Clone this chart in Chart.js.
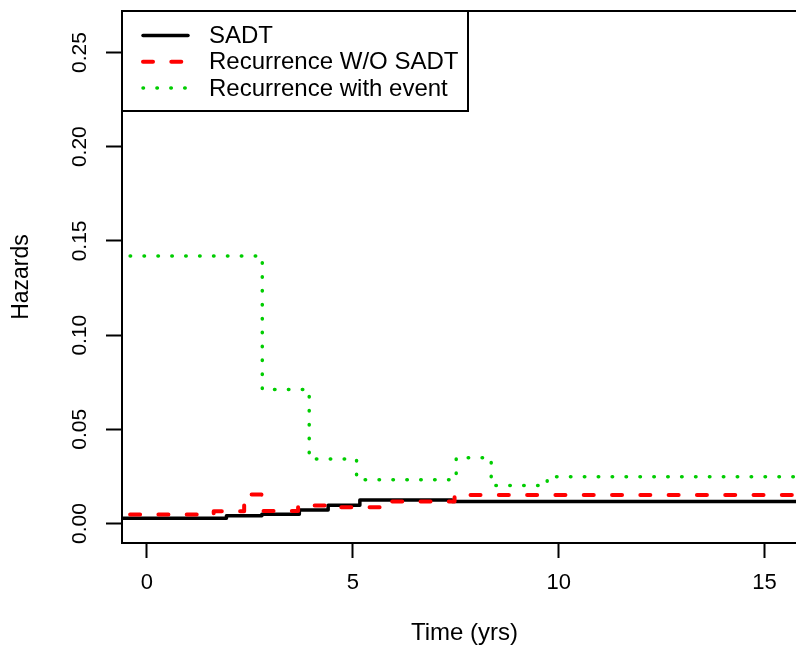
<!DOCTYPE html>
<html>
<head>
<meta charset="utf-8">
<title>Hazards</title>
<script src="https://cdn.jsdelivr.net/npm/chart.js@4.4.1/dist/chart.umd.min.js"></script>
<style>
  html, body { margin: 0; padding: 0; background: #fff; overflow: hidden; }
  #wrap { position: relative; width: 807px; height: 645px; }
</style>
</head>
<body>
<div id="wrap"><canvas id="hazardChart"></canvas></div>
<script>
// step change points (time in years) and hazard level from that time on
const sadtTimes = [-0.6, 1.93, 2.79, 3.70, 4.40, 5.17, 7.41, 16.5];
const sadtHazard = [0.0028, 0.0042, 0.0049, 0.0072, 0.0097, 0.0125, 0.0117, 0.0117];

const recurTimes = [-0.41, 1.62, 2.36, 2.78, 3.67, 4.40, 5.76, 7.47, 16.5];
const recurHazard = [0.0048, 0.0065, 0.0154, 0.0067, 0.0096, 0.0087, 0.0117, 0.0152, 0.0152];

const eventTimes = [-0.41, 2.80, 3.94, 5.09, 7.51, 8.36, 9.72, 16.5];
const eventHazard = [0.142, 0.0711, 0.0343, 0.0233, 0.035, 0.0202, 0.0249, 0.0249];

const seriesNames = ['SADT', 'Recurrence W/O SADT', 'Recurrence with event'];
const xTicks = [0, 5, 10, 15];
const yTicks = [0, 0.05, 0.10, 0.15, 0.20, 0.25];

const FONT = "'Liberation Sans', Arial, Helvetica, sans-serif";

function toPoints(times, vals) {
    return times.map((t, i) => ({ x: t, y: vals[i] }));
}

// R style box around the plot region
const plotBox = {
    id: 'plotBox',
    afterDatasetsDraw(chart) {
        const { ctx, chartArea: a } = chart;
        ctx.save();
        ctx.strokeStyle = '#000';
        ctx.lineWidth = 2;
        ctx.strokeRect(a.left, a.top, a.right - a.left, a.bottom - a.top);
        ctx.restore();
    }
};

// legend box in the top left corner
const legendBox = {
    id: 'legendBox',
    afterDraw(chart) {
        const { ctx, chartArea: a } = chart;
        const w = 346, h = 100;
        ctx.save();
        ctx.fillStyle = '#fff';
        ctx.fillRect(a.left, a.top, w, h);
        ctx.strokeStyle = '#000';
        ctx.lineWidth = 2;
        ctx.strokeRect(a.left, a.top, w, h);
        ctx.font = '24px ' + FONT;
        ctx.textBaseline = 'middle';
        chart.data.datasets.forEach((ds, i) => {
            const y = a.top + 24.5 + i * 26.2;
            ctx.beginPath();
            ctx.strokeStyle = ds.borderColor;
            ctx.lineWidth = ds.borderWidth;
            ctx.lineCap = ds.borderCapStyle;
            ctx.setLineDash(ds.borderDash);
            ctx.moveTo(a.left + 21, y);
            ctx.lineTo(a.left + 66, y);
            ctx.stroke();
            ctx.setLineDash([]);
            ctx.fillStyle = '#000';
            ctx.fillText(ds.label, a.left + 87, y + 1);
        });
        ctx.restore();
    }
};

const ctx = document.getElementById('hazardChart').getContext('2d');
const chart = new Chart(ctx, {
    type: 'line',
    data: {
        datasets: [
            {
                label: seriesNames[0],
                data: toPoints(sadtTimes, sadtHazard),
                borderColor: '#000000',
                borderWidth: 3.5,
                borderCapStyle: 'round',
                borderJoinStyle: 'round',
                borderDash: [],
                stepped: 'before',
                pointRadius: 0,
                order: 3
            },
            {
                label: seriesNames[1],
                data: toPoints(recurTimes, recurHazard),
                borderColor: '#FF0000',
                borderWidth: 4,
                borderCapStyle: 'round',
                borderJoinStyle: 'round',
                borderDash: [10, 18.3],
                stepped: 'before',
                pointRadius: 0,
                order: 2
            },
            {
                label: seriesNames[2],
                data: toPoints(eventTimes, eventHazard),
                borderColor: '#00CD00',
                borderWidth: 3.5,
                borderCapStyle: 'round',
                borderJoinStyle: 'round',
                borderDash: [0.5, 13.4],
                stepped: 'before',
                pointRadius: 0,
                order: 1
            }
        ]
    },
    options: {
        responsive: true,
        maintainAspectRatio: false,
        animation: false,
        events: [],
        layout: { padding: { left: 0, right: 0, top: 11, bottom: 0 } },
        plugins: {
            legend: { display: false },
            tooltip: { enabled: false }
        },
        scales: {
            x: {
                type: 'linear',
                min: -0.607,
                max: 16.03,
                afterFit: s => { s.height = 102; s.paddingLeft = 0; s.paddingRight = 0; },
                afterBuildTicks: s => { s.ticks = xTicks.map(v => ({ value: v })); },
                grid: {
                    drawOnChartArea: false,
                    drawTicks: true,
                    tickLength: 15,
                    tickWidth: 2,
                    tickColor: '#000'
                },
                border: { display: false },
                ticks: {
                    color: '#000',
                    font: { family: FONT, size: 22 },
                    padding: 12,
                    maxRotation: 0,
                    autoSkip: false,
                    callback: v => String(v)
                },
                title: {
                    display: true,
                    text: 'Time (yrs)',
                    color: '#000',
                    font: { family: FONT, size: 24, lineHeight: 1 },
                    padding: { top: 0, bottom: -0.5 }
                }
            },
            y: {
                type: 'linear',
                min: -0.0103,
                max: 0.272,
                afterFit: s => { s.width = 122; s.paddingTop = 0; s.paddingBottom = 0; },
                afterBuildTicks: s => { s.ticks = yTicks.map(v => ({ value: v })); },
                grid: {
                    drawOnChartArea: false,
                    drawTicks: true,
                    tickLength: 16,
                    tickWidth: 2,
                    tickColor: '#000'
                },
                border: { display: false },
                ticks: {
                    color: '#000',
                    font: { family: FONT, size: 21 },
                    minRotation: 90,
                    maxRotation: 90,
                    crossAlign: 'center',
                    padding: 5,
                    autoSkip: false,
                    callback: v => v.toFixed(2)
                },
                title: {
                    display: true,
                    text: 'Hazards',
                    color: '#000',
                    font: { family: FONT, size: 23, lineHeight: 1 },
                    padding: { top: 10.5, bottom: 0 }
                }
            }
        }
    },
    plugins: [plotBox, legendBox]
});
</script>
</body>
</html>
